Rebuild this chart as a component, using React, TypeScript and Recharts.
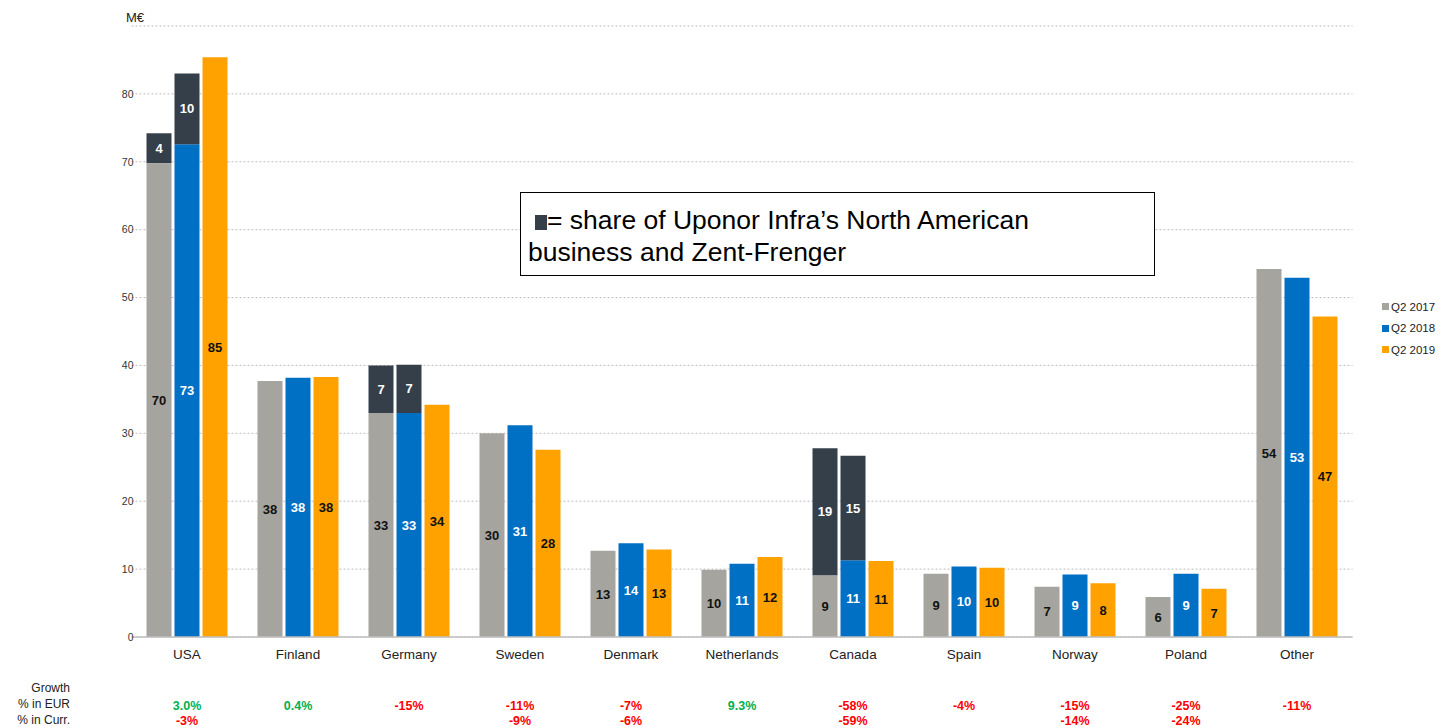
import React from 'react';
import { BarChart, Bar, XAxis, YAxis, CartesianGrid, LabelList } from 'recharts';

const categories = ['USA', 'Finland', 'Germany', 'Sweden', 'Denmark', 'Netherlands', 'Canada', 'Spain', 'Norway', 'Poland', 'Other'];
const q2017 = [69.8, 37.7, 33.0, 30.0, 12.7, 9.9, 9.1, 9.3, 7.4, 5.9, 54.2];
const q2017Share = [4.4, 0, 7.0, 0, 0, 0, 18.7, 0, 0, 0, 0];
const q2018 = [72.6, 38.2, 33.0, 31.2, 13.8, 10.8, 11.3, 10.4, 9.2, 9.3, 52.9];
const q2018Share = [10.4, 0, 7.1, 0, 0, 0, 15.4, 0, 0, 0, 0];
const q2019 = [85.4, 38.3, 34.2, 27.6, 12.9, 11.8, 11.2, 10.2, 7.9, 7.1, 47.2];
const growthEur = ['3.0%', '0.4%', '-15%', '-11%', '-7%', '9.3%', '-58%', '-4%', '-15%', '-25%', '-11%'];
const growthCurr = ['-3%', '', '', '-9%', '-6%', '', '-59%', '', '-14%', '-24%', ''];
const yTicks = [0, 10, 20, 30, 40, 50, 60, 70, 80, 90];
const seriesNames = ['Q2 2017', 'Q2 2018', 'Q2 2019'];
const seriesColors = ['#a6a49e', '#0070c5', '#ffa200'];
const shareColor = '#343f4a';

const data = categories.map((c, i) => ({
  name: c,
  q2017: q2017[i],
  q2017Share: q2017Share[i],
  q2018: q2018[i],
  q2018Share: q2018Share[i],
  q2019: q2019[i],
}));

const FONT = '"Liberation Sans", Arial, sans-serif';
const fmt = (v: any) => (v === 0 || v == null ? '' : String(Math.round(Number(v))));
const growthColor = (s: string) => (s.startsWith('-') ? '#ff0000' : '#00b050');

const renderTick = (props: any) => {
  const { x, y, payload } = props;
  const i = payload.index;
  return (
    <g>
      <text x={x} y={y + 22} textAnchor="middle" fontSize={13.5} fill="#222" fontFamily={FONT}>
        {payload.value}
      </text>
      <text x={x} y={y + 73} textAnchor="middle" fontSize={12.5} fontWeight="bold" fill={growthColor(growthEur[i])} fontFamily={FONT}>
        {growthEur[i]}
      </text>
      <text x={x} y={y + 88} textAnchor="middle" fontSize={12.5} fontWeight="bold" fill={growthColor(growthCurr[i] || '-')} fontFamily={FONT}>
        {growthCurr[i]}
      </text>
    </g>
  );
};

const labelStyle = (fill: string) => ({
  position: 'center' as const,
  fill,
  fontSize: 13,
  fontWeight: 'bold' as const,
  fontFamily: FONT,
  formatter: fmt,
});

export default function App() {
  return (
    <div style={{ position: 'relative', width: 1429, height: 720, fontFamily: FONT }}>
      <style>{'html{overflow:hidden}'}</style>
      <BarChart
        width={1429}
        height={720}
        data={data}
        margin={{ top: 18, right: 84.5, left: 0, bottom: 0 }}
        barCategoryGap={15}
        barGap={3}
      >
        <CartesianGrid vertical={false} stroke="#bdbdbd" strokeDasharray="2 2" />
        <XAxis
          dataKey="name"
          height={91}
          tickLine={false}
          tickSize={0}
          tickMargin={0}
          axisLine={{ stroke: '#bfbfbf', strokeWidth: 1.5 }}
          tick={renderTick}
          interval={0}
        />
        <YAxis
          width={123.5}
          domain={[0, 90]}
          ticks={yTicks}
          tickLine={false}
          axisLine={false}
          tickSize={0}
          tickMargin={0}
          tick={{ fontSize: 10.5, fill: '#333', fontFamily: FONT, dx: 2 }}
          tickFormatter={(v: number) => (v === 90 ? '' : String(v))}
        />
        <Bar dataKey="q2017" stackId="a" fill={seriesColors[0]} barSize={25} isAnimationActive={false}>
          <LabelList dataKey="q2017" {...labelStyle('#111')} />
        </Bar>
        <Bar dataKey="q2017Share" stackId="a" fill={shareColor} barSize={25} isAnimationActive={false}>
          <LabelList dataKey="q2017Share" {...labelStyle('#fff')} />
        </Bar>
        <Bar dataKey="q2018" stackId="b" fill={seriesColors[1]} barSize={25} isAnimationActive={false}>
          <LabelList dataKey="q2018" {...labelStyle('#fff')} />
        </Bar>
        <Bar dataKey="q2018Share" stackId="b" fill={shareColor} barSize={25} isAnimationActive={false}>
          <LabelList dataKey="q2018Share" {...labelStyle('#fff')} />
        </Bar>
        <Bar dataKey="q2019" stackId="c" fill={seriesColors[2]} barSize={25} isAnimationActive={false}>
          <LabelList dataKey="q2019" {...labelStyle('#111')} />
        </Bar>
      </BarChart>

      <div style={{ position: 'absolute', left: 116, top: 2, fontSize: 13, color: '#222', background: '#fff', padding: '0 2px' }}>M€</div>

      <div style={{ position: 'absolute', right: 1429 - 62, top: 673, textAlign: 'right', fontSize: 12, lineHeight: '15.8px', color: '#222' }}>
        <div>Growth</div>
        <div>% in EUR</div>
        <div style={{ whiteSpace: 'nowrap' }}>% in Curr.</div>
      </div>

      <div style={{ position: 'absolute', left: 1374, top: 288, width: 55, fontSize: 11.5, color: '#222' }}>
        {seriesNames.map((n, i) => (
          <div key={n} style={{ display: 'flex', alignItems: 'center', height: 21.5, whiteSpace: 'nowrap' }}>
            <span style={{ display: 'inline-block', width: 7, height: 7, background: seriesColors[i], marginRight: 2 }} />
            <span>{n}</span>
          </div>
        ))}
      </div>

      <div
        style={{
          position: 'absolute',
          left: 512,
          top: 184,
          width: 635,
          height: 84,
          border: '1px solid #000',
          fontSize: 26.5,
          lineHeight: '32px',
          color: '#000',
          padding: '11px 0 0 7px',
          boxSizing: 'border-box',
          background: '#fff',
        }}
      >
        <div style={{ whiteSpace: 'nowrap' }}>
          <span style={{ display: 'inline-block', width: 12, height: 15, background: shareColor, marginLeft: 7, verticalAlign: '-1px' }} />
          = share of Uponor Infra’s North American
        </div>
        <div style={{ whiteSpace: 'nowrap' }}>business and Zent-Frenger</div>
      </div>
    </div>
  );
}
